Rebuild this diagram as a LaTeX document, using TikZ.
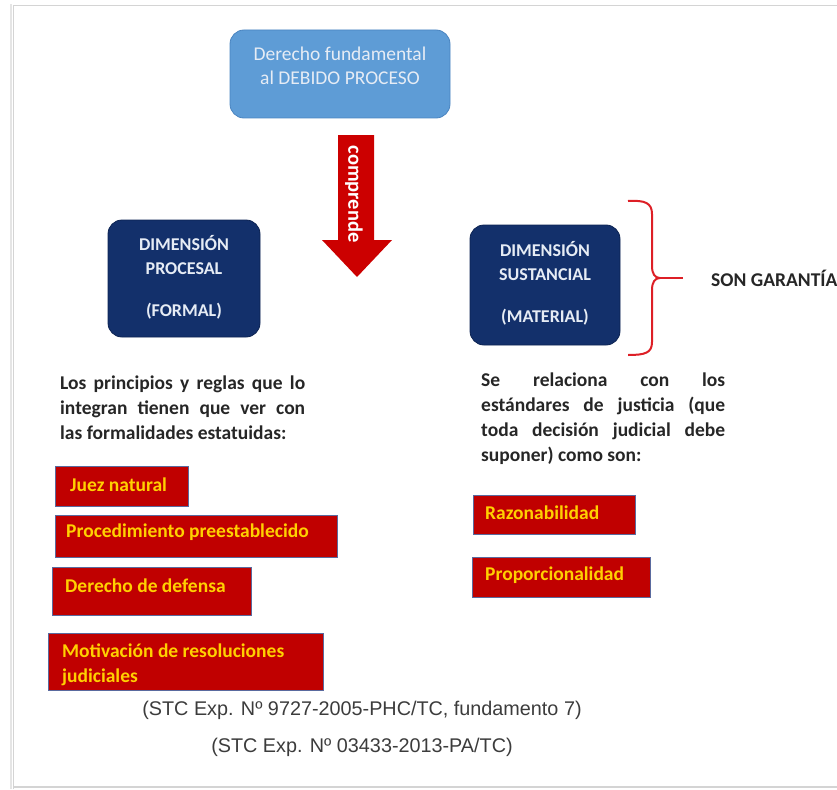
\documentclass[tikz,border=0pt]{standalone}
\usepackage{fontspec}
\setmainfont{Carlito}
\newfontfamily\arialf{Liberation Sans}
\definecolor{topblue}{HTML}{5E9CD6}
\definecolor{topborder}{HTML}{4A84C0}
\definecolor{navy}{HTML}{13306B}
\definecolor{navyborder}{HTML}{0C2352}
\definecolor{arrowred}{HTML}{CC0000}
\definecolor{boxred}{HTML}{C00000}
\definecolor{boxborder}{HTML}{5A6A9E}
\definecolor{goldtext}{HTML}{FFD000}
\definecolor{bracered}{HTML}{DD1F26}
\definecolor{bodytext}{HTML}{262626}
\definecolor{citegray}{HTML}{3C3C3C}
\definecolor{framegray}{HTML}{D4D4D4}
\definecolor{lighttext}{HTML}{E6ECF5}
\tikzset{
  topbox/.style={draw=topborder, line width=0.8pt, fill=topblue, rounded corners=14pt, inner sep=0pt},
  dimbox/.style={draw=navyborder, line width=0.8pt, fill=navy, rounded corners=14pt, inner sep=0pt},
  boxtext/.style={align=center, inner sep=0pt, font=\fontsize{19.5}{24}\selectfont},
  redbox/.style={draw=boxborder, line width=0.8pt, fill=boxred, inner sep=0pt, anchor=north west},
  goldlbl/.style={text=goldtext, font=\fontsize{19.5}{24.5}\selectfont\bfseries, anchor=west, inner sep=0pt, align=left},
  paraline/.style={text=bodytext, font=\fontsize{19.5}{25}\selectfont\bfseries, anchor=base west, inner sep=0pt},
  citetext/.style={text=citegray, font=\arialf\fontsize{19.8}{24}\selectfont, inner sep=0pt}
}
\begin{document}
\begin{tikzpicture}[x=1pt,y=-1pt]
\useasboundingbox (0,0) rectangle (837,789);
\clip (0,0) rectangle (837,789);
% page frame
\draw[framegray!60, line width=2pt] (11,789) -- (11,4);
\draw[framegray, line width=1pt] (13,789) -- (13,6) -- (837,6);
\draw[framegray, line width=1.5pt] (13,787) -- (837,787);

% top box
\node[topbox, minimum width=220pt, minimum height=88pt] (top) at (340,74) {};
\node[boxtext, text=lighttext] (toptext) at (340,66) {Derecho fundamental\\al DEBIDO PROCESO};

% block arrow
\path[fill=arrowred] (338,135) -- (374,135) -- (374,240) -- (392,240) -- (357,277) -- (322,240) -- (338,240) -- cycle;
\node[rotate=-90, text=white, font=\fontsize{20.5}{22}\selectfont\bfseries, inner sep=0pt] (comp) at (354,194) {comprende};

% dimension boxes
\node[dimbox, minimum width=152pt, minimum height=117pt] (proc) at (184,278.5) {};
\node[boxtext, text=lighttext, font=\fontsize{18}{24}\selectfont\bfseries] (proct) at (184,277) {DIMENSIÓN\\PROCESAL\\[18pt](FORMAL)};
\node[dimbox, minimum width=150pt, minimum height=120pt] (sust) at (545,285) {};
\node[boxtext, text=lighttext, font=\fontsize{18}{24}\selectfont\bfseries] (sustt) at (545,283.5) {DIMENSIÓN\\SUSTANCIAL\\[18pt](MATERIAL)};

% brace
\coordinate (tip) at (660,278);
\coordinate (braceend) at (683,278);
\draw[bracered, line width=2pt] (628,201) .. controls (645,200) and (652,203) .. (652,214) -- (652,266)
  .. controls (652,274) and (655,278) .. (tip)
  .. controls (655,278) and (652,282) .. (652,290) -- (652,342)
  .. controls (652,353) and (645,355) .. (628,355);
\draw[bracered, line width=2pt] (tip) -- (braceend);
\node[anchor=west, text=bodytext, font=\fontsize{19.5}{22}\selectfont\bfseries, inner sep=0pt] (son) at (711,278) {SON GARANTÍAS};

% left paragraph
\node[paraline] (l1) at (60,389) {\makebox[245pt][s]{Los principios y reglas que lo}};
\node[paraline] (l2) at (60,414) {\makebox[245pt][s]{integran tienen que ver con}};
\node[paraline] (l3) at (60,439) {las formalidades estatuidas:};

% right paragraph
\node[paraline] (r1) at (481,386) {\makebox[244pt][s]{Se relaciona con los}};
\node[paraline] (r2) at (481,411) {\makebox[244pt][s]{estándares de justicia (que}};
\node[paraline] (r3) at (481,436) {\makebox[244pt][s]{toda decisión judicial debe}};
\node[paraline] (r4) at (481,461) {suponer) como son:};

% left red boxes
\node[redbox, minimum width=133pt, minimum height=40pt] (juez) at (55,466) {};
\node[goldlbl] (juezt) at (70,485) {Juez natural};
\node[redbox, minimum width=282pt, minimum height=42pt] (proced) at (55,515) {};
\node[goldlbl] (procedt) at (66,532) {Procedimiento preestablecido};
\node[redbox, minimum width=199pt, minimum height=48pt] (defensa) at (52,567) {};
\node[goldlbl] (defensat) at (65,586) {Derecho de defensa};
\node[redbox, minimum width=275pt, minimum height=57pt] (motiv) at (48,633) {};
\node[goldlbl] (motivt) at (62,665) {Motivación de resoluciones\\judiciales};

% right red boxes
\node[redbox, minimum width=162pt, minimum height=39pt] (razon) at (473,495) {};
\node[goldlbl] (razont) at (485,513) {Razonabilidad};
\node[redbox, minimum width=178pt, minimum height=40pt] (propor) at (472,557) {};
\node[goldlbl] (propt) at (485,575) {Proporcionalidad};

% citations
\node[citetext] (cite1) at (362,710) {(STC Exp. Nº 9727-2005-PHC/TC, fundamento 7)};
\node[citetext] (cite2) at (362,747) {(STC Exp. Nº 03433-2013-PA/TC)};
\end{tikzpicture}
\end{document}
